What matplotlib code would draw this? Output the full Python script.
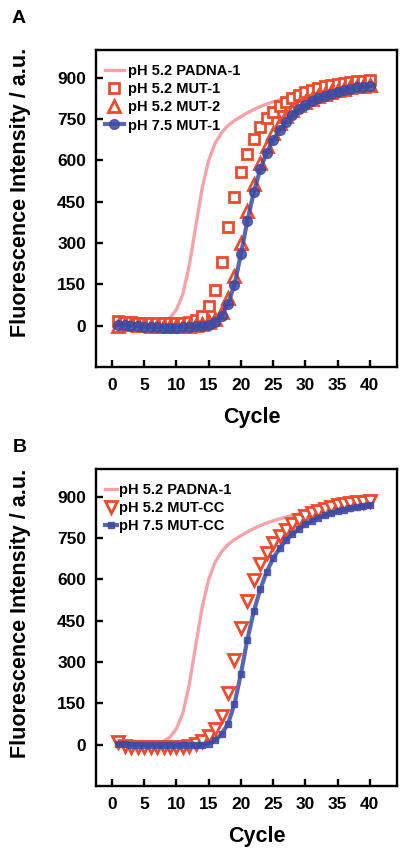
import numpy as np
import matplotlib
matplotlib.use('Agg')
import matplotlib.pyplot as plt

plt.rcParams['font.family'] = ['Liberation Sans', 'DejaVu Sans']
plt.rcParams['font.weight'] = 'bold'

# cycle numbers and fluorescence readings
cycles = np.arange(1, 41)

padna1 = [8, 6, 5, 4, 4, 4, 6, 12, 28, 58,
          115, 220, 362, 500, 600, 662, 700, 726, 744, 758,
          772, 784, 795, 804, 812, 819, 826, 832, 838, 843,
          848, 853, 857, 861, 865, 868, 871, 874, 877, 880]

# panel A
mut1_52 = [15, 14, 12, 10, 9, 8, 8, 8, 8, 9,
           10, 13, 20, 35, 70, 130, 230, 356, 468, 558,
           623, 677, 722, 752, 774, 795, 812, 826, 838, 848,
           856, 863, 869, 874, 878, 882, 885, 887, 889, 891]
mut2_52 = [0, 5, 6, 4, 2, 0, 0, -2, -3, -3,
           -2, 0, 2, 5, 12, 25, 50, 100, 180, 298,
           415, 515, 590, 652, 698, 735, 762, 783, 800, 813,
           824, 834, 842, 849, 855, 860, 864, 868, 870, 872]
mut1_75 = [3, 2, 0, -2, -4, -5, -6, -7, -7, -7,
           -6, -5, -3, -1, 4, 14, 35, 80, 148, 260,
           380, 485, 567, 628, 673, 710, 740, 765, 785, 801,
           814, 825, 834, 842, 849, 855, 860, 864, 867, 869]

# panel B
mutcc_52 = [10, -5, -8, -8, -9, -10, -10, -10, -10, -10,
            -10, -6, 2, 15, 30, 55, 105, 188, 308, 423,
            520, 598, 655, 697, 730, 757, 780, 799, 815, 828,
            839, 848, 856, 862, 868, 872, 876, 879, 881, 883]
mutcc_75 = [2, 1, 0, -1, -2, -3, -3, -3, -3, -3,
            -2, -2, -1, 0, 4, 16, 38, 76, 147, 258,
            381, 484, 563, 627, 676, 712, 742, 764, 783, 799,
            812, 823, 832, 840, 847, 853, 858, 862, 865, 868]

pink = '#F5A3A8'
red = '#F04A2C'
blue = '#3E4BA3'

fig = plt.figure(figsize=(4.10, 8.59), dpi=100)
axA = fig.add_axes([0.234, 0.5728, 0.734, 0.369])
axB = fig.add_axes([0.234, 0.085, 0.734, 0.369])


def style_axes(ax, ylab_y, xlab_x):
    ax.set_xlim(-2.5, 44.2)
    ax.set_ylim(-150, 1000)
    ax.set_xticks(np.arange(0, 41, 5))
    ax.set_yticks(np.arange(0, 901, 150))
    for s in ax.spines.values():
        s.set_linewidth(1.7)
    ax.tick_params(direction='in', length=5, width=1.7, labelsize=12.5,
                   top=False, right=False)
    ax.tick_params(axis='y', pad=7)
    ax.tick_params(axis='x', pad=8)
    ax.set_xlabel('Cycle', fontsize=15.5, fontweight='bold')
    ax.set_ylabel('Fluorescence Intensity / a.u.', fontsize=15.5, fontweight='bold')
    ax.xaxis.set_label_coords(xlab_x, -0.125)
    ax.yaxis.set_label_coords(-0.215, ylab_y)


# A
axA.plot(cycles, padna1, color=pink, lw=2.4, label='pH 5.2 PADNA-1', zorder=2)
axA.plot(cycles, mut1_52, ls='none', marker='s', ms=7.5, mfc='white', mec=red,
         mew=2.0, label='pH 5.2 MUT-1', zorder=3)
axA.plot(cycles, mut2_52, ls='none', marker='^', ms=9, mfc='white', mec=red,
         mew=2.0, label='pH 5.2 MUT-2', zorder=4)
axA.plot(cycles, mut1_75, color=blue, lw=3, marker='o', ms=7, mfc=blue,
         mec=blue, alpha=0.85, label='pH 7.5 MUT-1', zorder=5)
style_axes(axA, 0.55, 0.518)
axA.legend(loc='upper left', bbox_to_anchor=(0.03, 0.955), frameon=False,
           handlelength=1.3, handletextpad=0.25, labelspacing=0.28,
           borderpad=0, borderaxespad=0, prop={'weight': 'bold', 'size': 10.5})

# B
axB.plot(cycles, padna1, color=pink, lw=2.4, label='pH 5.2 PADNA-1', zorder=2)
axB.plot(cycles, mutcc_52, ls='none', marker='v', ms=9, mfc='white', mec=red,
         mew=2.0, label='pH 5.2 MUT-CC', zorder=3)
axB.plot(cycles, mutcc_75, color=blue, lw=3, marker='s', ms=4.5, mfc=blue,
         mec=blue, alpha=0.85, label='pH 7.5 MUT-CC', zorder=4)
style_axes(axB, 0.546, 0.535)
axB.legend(loc='upper left', bbox_to_anchor=(0.03, 0.955), frameon=False,
           handlelength=0.8, handletextpad=0.15, labelspacing=0.28,
           borderpad=0, borderaxespad=0, prop={'weight': 'bold', 'size': 10.5})

fig.text(0.046, 0.978, 'A', fontsize=14, fontweight='bold', ha='center', va='center')
fig.text(0.049, 0.479, 'B', fontsize=14, fontweight='bold', ha='center', va='center')

fig.savefig('out.png', dpi=100)
